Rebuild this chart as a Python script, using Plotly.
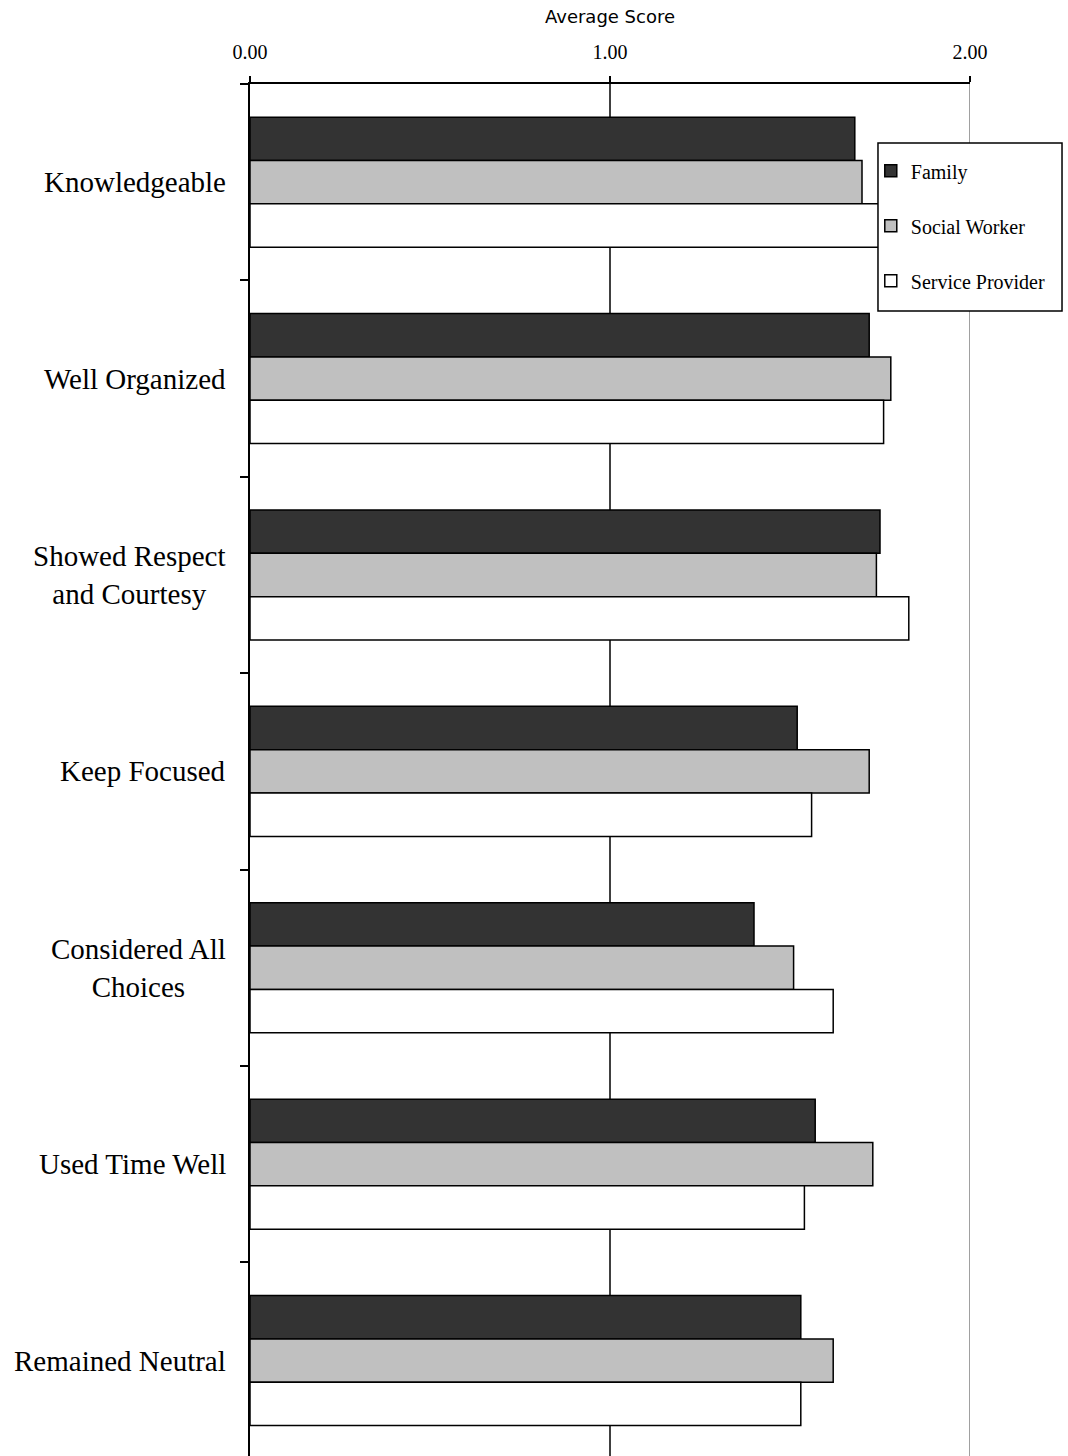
import plotly.graph_objects as go

# Survey categories (top to bottom)
categories = [
    "Knowledgeable",
    "Well Organized",
    "Showed Respect<br>and Courtesy",
    "Keep Focused",
    "Considered All<br>Choices",
    "Used Time Well",
    "Remained Neutral",
]

# Average scores by respondent group
family = [1.68, 1.72, 1.75, 1.52, 1.40, 1.57, 1.53]
social_worker = [1.70, 1.78, 1.74, 1.72, 1.51, 1.73, 1.62]
service_provider = [1.78, 1.76, 1.83, 1.56, 1.62, 1.54, 1.53]

series_names = ["Family", "Social Worker", "Service Provider"]
series_values = [family, social_worker, service_provider]
series_colors = ["#333333", "#c0c0c0", "#ffffff"]

x_ticks = [0, 1, 2]
x_tick_labels = [f"{v:.2f}" for v in x_ticks]

SERIF = "Liberation Serif, Times New Roman, serif"

fig = go.Figure()
for i, (name, vals, col) in enumerate(zip(series_names, series_values, series_colors)):
    fig.add_trace(go.Bar(
        name=name,
        y=categories,
        x=vals,
        orientation="h",
        marker=dict(color=col, line=dict(color="black", width=1.5)),
        legendgroup=f"g{i}",
    ))

# Category labels, centred line by line, right-aligned against the axis
annotations = []
for cat in categories:
    annotations.append(dict(
        x=0, xref="paper", y=cat, yref="y",
        text=cat, showarrow=False,
        xanchor="right", yanchor="middle", align="center",
        xshift=-22,
        font=dict(family=SERIF, size=29, color="black"),
    ))

shapes = [
    # vertical gridlines
    dict(type="line", xref="x", yref="paper", x0=1, x1=1, y0=0, y1=1,
         line=dict(color="black", width=1.5), layer="below"),
    dict(type="line", xref="x", yref="paper", x0=2, x1=2, y0=0, y1=1,
         line=dict(color="#808080", width=1.5), layer="below"),
    # legend frame
    dict(type="rect", xref="paper", yref="paper",
         x0=0.8722, x1=1.1278, y0=0.8345, y1=0.9570,
         fillcolor="white", line=dict(color="black", width=1.5), layer="above"),
]

fig.update_layout(
    width=1068,
    height=1456,
    margin=dict(l=250, r=98, t=84, b=0, pad=0),
    paper_bgcolor="white",
    plot_bgcolor="white",
    barmode="group",
    bargap=0.338,
    bargroupgap=0,
    showlegend=True,
    legend=dict(
        x=0.8722 - 0.010, y=0.9570 - 0.006,
        xanchor="left", yanchor="top",
        bgcolor="rgba(0,0,0,0)",
        borderwidth=0,
        font=dict(family=SERIF, size=20, color="black"),
        traceorder="grouped",
        tracegroupgap=26,
        itemwidth=30,
    ),
    annotations=annotations,
    shapes=shapes,
    xaxis=dict(
        side="top",
        range=[0, 2],
        tickvals=x_ticks,
        ticktext=x_tick_labels,
        ticks="outside",
        ticklen=6,
        tickwidth=1.5,
        tickcolor="black",
        ticklabelstandoff=9,
        showline=True,
        linecolor="black",
        linewidth=2,
        showgrid=False,
        zeroline=False,
        tickfont=dict(family=SERIF, size=20, color="black"),
        title=dict(text="Average Score",
                   font=dict(family="DejaVu Sans, sans-serif", size=18, color="black"),
                   standoff=13),
    ),
    yaxis=dict(
        type="category",
        categoryorder="array",
        categoryarray=categories,
        range=[6.486, -0.5],
        tickson="boundaries",
        ticks="outside",
        ticklen=8,
        tickwidth=1.5,
        tickcolor="black",
        showticklabels=False,
        showline=True,
        linecolor="black",
        linewidth=2,
        showgrid=False,
        zeroline=False,
    ),
)

fig.write_html("out.html")
